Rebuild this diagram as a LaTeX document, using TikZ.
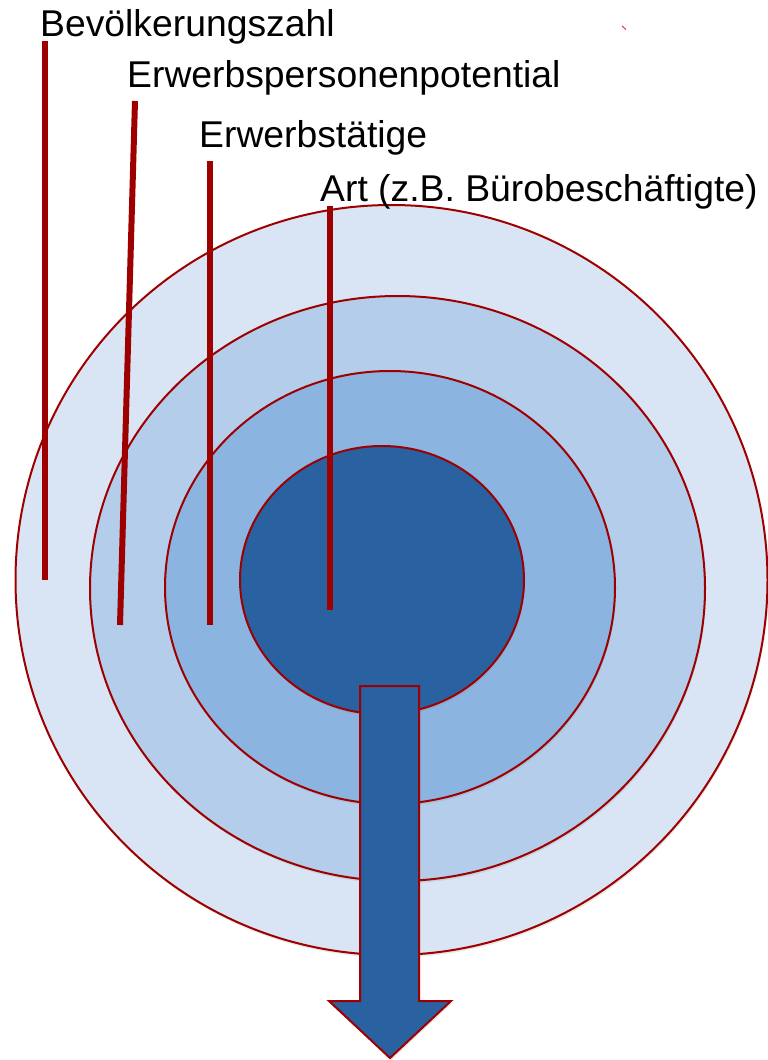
\documentclass[tikz,border=0pt]{standalone}
\usepackage{fontspec}
\setmainfont{Liberation Sans}
\usetikzlibrary{shadows}
\definecolor{ringA}{HTML}{D9E5F4}
\definecolor{ringB}{HTML}{B3CDEB}
\definecolor{ringC}{HTML}{8CB4E1}
\definecolor{ringD}{HTML}{2961A1}
\definecolor{rimred}{HTML}{9E0000}
\begin{document}
\begin{tikzpicture}[
		x=1pt, y=-1pt,
		label/.style={anchor=base west, inner sep=0pt, font=\fontsize{37.3}{44}\selectfont},
		ring/.style={draw=rimred, line width=2pt,
			drop shadow={shadow xshift=1pt, shadow yshift=-2.5pt, opacity=0.18}},
		lead/.style={draw=rimred, line width=6pt},
		]
		\useasboundingbox (0,0) rectangle (768,1060);
		% rings
		\draw[ring, fill=ringA] (391.5,580) ellipse [x radius=376, y radius=375];
		\draw[ring, fill=ringB] (397.5,588.5) ellipse [x radius=307.5, y radius=292.5];
		\draw[ring, fill=ringC] (390,587.5) ellipse [x radius=225, y radius=216.5];
		\draw[ring, fill=ringD] (382,580) ellipse [x radius=142, y radius=134];
		% arrow
		\draw[ring, fill=ringD, line join=miter] (360,686) -- (419,686) -- (419,1001) -- (451,1001)
			-- (390,1058) -- (329,1001) -- (360,1001) -- cycle;
		% labels
		\node[label] (bev) at (40,36) {Bevölkerungszahl};
		\node[label] (epp) at (127,87) {Erwerbspersonenpotential};
		\node[label] (erw) at (199,147) {Erwerbstätige};
		\node[label] (art) at (320,201) {Art (z.B. Bürobeschäftigte)};
		% leader lines
		\coordinate (bevTop) at (45,41);
		\coordinate (bevEnd) at (45,580);
		\coordinate (eppTop) at (135,101);
		\coordinate (eppEnd) at (120,625);
		\coordinate (erwTop) at (210,161);
		\coordinate (erwEnd) at (210,625);
		\coordinate (artTop) at (330,206);
		\coordinate (artEnd) at (330,610);
		\path[lead] (bevTop) -- (bevEnd);
		\path[lead] (eppTop) -- (eppEnd);
		\path[lead] (erwTop) -- (erwEnd);
		\path[lead] (artTop) -- (artEnd);
		% stray tick
		\coordinate (tickA) at (622,26);
		\coordinate (tickB) at (626,29.5);
		\draw[red!80, line width=1pt] (tickA) -- (tickB);
	\end{tikzpicture}
\end{document}
